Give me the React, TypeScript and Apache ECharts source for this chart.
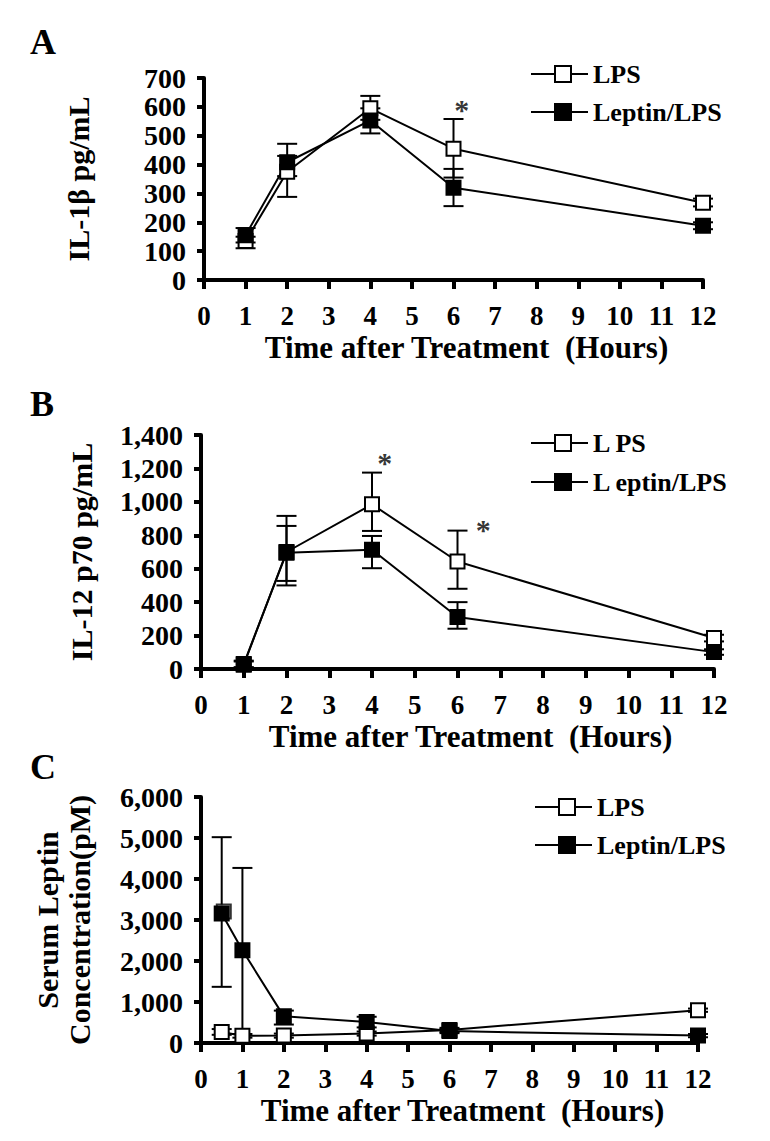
import React, { useEffect, useRef } from 'react';
import * as echarts from 'echarts';

// ---------- data ----------
const xTicks = [0, 1, 2, 3, 4, 5, 6, 7, 8, 9, 10, 11, 12];
const yTicksA = [0, 100, 200, 300, 400, 500, 600, 700];
const yTicksB = [0, 200, 400, 600, 800, 1000, 1200, 1400];
const yTicksC = [0, 1000, 2000, 3000, 4000, 5000, 6000];

// Panel A: IL-1beta
const timeA = [1, 2, 4, 6, 12];
const lpsA = [135, 375, 595, 455, 268];
const lpsALow = [110, 288, 555, 355, 255];
const lpsAHigh = [150, 430, 638, 558, 282];
const leptinA = [155, 408, 553, 320, 188];
const leptinALow = [130, 360, 508, 256, 176];
const leptinAHigh = [180, 472, 595, 385, 200];
const sigA = [[6.2, 615]];

// Panel B: IL-12 p70
const timeB = [1, 2, 4, 6, 12];
const lpsB = [25, 700, 985, 643, 185];
const lpsBLow = [10, 527, 826, 480, 165];
const lpsBHigh = [45, 856, 1175, 828, 205];
const leptinB = [30, 695, 713, 311, 101];
const leptinBLow = [10, 500, 603, 241, 85];
const leptinBHigh = [50, 916, 796, 400, 118];
const sigB = [[4.3, 1280], [6.6, 875]];

// Panel C: serum leptin
const timeC = [0.5, 1, 2, 4, 6, 12];
const lpsC = [270, 175, 180, 230, 320, 800];
const lpsCLow = [200, 130, 130, 180, 270, 760];
const lpsCHigh = [340, 220, 230, 280, 370, 840];
const leptinC = [3160, 2260, 650, 510, 290, 180];
const leptinCLow = [1370, 0, 450, 380, 240, 140];
const leptinCHigh = [5020, 4270, 790, 640, 340, 220];
const extraOpenC = [[0.55, 3210]];
const sigC = [[12.07, 1580]];

// ---------- styling ----------
const FONT = '"Liberation Serif", "Times New Roman", Times, serif';
const OPEN_ICON = 'path://M0,8H23V0H41V8H57V10H41V18H23V10H0Z M25,2V16H39V2Z';
const FILLED_ICON = 'path://M0,8H23V0H41V8H57V10H41V18H23V10H0Z';

const pairs = (xs: number[], ys: number[]) => xs.map((x, i) => [x, ys[i]]);
const errs = (xs: number[], lo: number[], hi: number[]) => xs.map((x, i) => [x, lo[i], hi[i]]);
const fmt = (v: number) => v.toLocaleString('en-US');

const errRender = (params: any, api: any) => {
  const x = api.value(0);
  const a = api.coord([x, api.value(1)]);
  const b = api.coord([x, api.value(2)]);
  const hw = 10;
  const style = { stroke: '#000', lineWidth: 2 };
  return {
    type: 'group',
    children: [
      { type: 'line', shape: { x1: a[0], y1: a[1], x2: b[0], y2: b[1] }, style },
      { type: 'line', shape: { x1: a[0] - hw, y1: a[1], x2: a[0] + hw, y2: a[1] }, style },
      { type: 'line', shape: { x1: b[0] - hw, y1: b[1], x2: b[0] + hw, y2: b[1] }, style },
    ],
  };
};

const xAxisFor = (gridIndex: number) => ({
  type: 'value',
  gridIndex,
  min: xTicks[0],
  max: xTicks[xTicks.length - 1],
  interval: xTicks[1] - xTicks[0],
  name: 'Time after Treatment  (Hours)',
  nameLocation: 'middle',
  nameGap: 52,
  nameTextStyle: { fontFamily: FONT, fontWeight: 'bold', fontSize: 31, color: '#000', padding: [0, 0, 0, 26] },
  axisLine: { show: true, onZero: false, lineStyle: { color: '#000', width: 4 } },
  axisTick: { show: true, length: 9, lineStyle: { color: '#000', width: 4 } },
  axisLabel: { color: '#000', fontFamily: FONT, fontWeight: 'bold', fontSize: 27, margin: 22, interval: 0, showMinLabel: true, showMaxLabel: true },
  splitLine: { show: false },
});

const yAxisFor = (gridIndex: number, ticks: number[], name: string, nameGap: number, extra: any = {}) => ({
  type: 'value',
  gridIndex,
  min: ticks[0],
  max: ticks[ticks.length - 1],
  interval: ticks[1] - ticks[0],
  name,
  nameLocation: 'middle',
  nameGap,
  nameRotate: 90,
  nameTextStyle: { fontFamily: FONT, fontWeight: 'bold', fontSize: 30, color: '#000', ...extra },
  axisLine: { show: true, onZero: false, lineStyle: { color: '#000', width: 4 } },
  axisTick: { show: true, length: 7, lineStyle: { color: '#000', width: 4 } },
  axisLabel: { color: '#000', fontFamily: FONT, fontWeight: 'bold', fontSize: 28, margin: 18, formatter: fmt },
  splitLine: { show: false },
});

const openItem = { color: '#fff', borderColor: '#000', borderWidth: 2 };
const filledItem = { color: '#000', borderColor: '#000', borderWidth: 2 };
const lineStyle = { color: '#000', width: 2 };

const lineSeries = (name: string, idx: number, data: number[][], open: boolean) => ({
  type: 'line',
  name,
  xAxisIndex: idx,
  yAxisIndex: idx,
  data,
  symbol: 'rect',
  symbolSize: 14,
  itemStyle: open ? openItem : filledItem,
  lineStyle,
  z: 3,
  silent: true,
});

const errSeries = (idx: number, data: number[][]) => ({
  type: 'custom',
  xAxisIndex: idx,
  yAxisIndex: idx,
  renderItem: errRender,
  data,
  encode: { x: 0, y: [1, 2] },
  clip: false,
  z: 2,
  silent: true,
});

const sigSeries = (idx: number, data: number[][]) => ({
  type: 'scatter',
  xAxisIndex: idx,
  yAxisIndex: idx,
  data,
  symbolSize: 1,
  itemStyle: { color: 'rgba(0,0,0,0)' },
  label: {
    show: true,
    position: 'inside',
    formatter: '*',
    fontFamily: FONT,
    fontWeight: 'bold',
    fontSize: 30,
    color: '#000',
    offset: [0, 7],
  },
  z: 4,
  silent: true,
});

const legendFor = (names: string[], left: number, top: number, gap: number) => ({
  orient: 'vertical',
  left,
  top,
  itemGap: gap,
  itemWidth: 57,
  itemHeight: 18,
  selectedMode: false,
  textStyle: { fontFamily: FONT, fontWeight: 'bold', fontSize: 26, color: '#000' },
  itemStyle: { color: '#000', borderWidth: 0 },
  data: [
    { name: names[0], icon: OPEN_ICON, itemStyle: { color: '#000', borderWidth: 0 } },
    { name: names[1], icon: FILLED_ICON, itemStyle: { color: '#000', borderWidth: 0 } },
  ],
});

const panelLabel = (text: string, x: number, y: number) => ({
  type: 'text',
  x,
  y,
  style: { text, fontFamily: FONT, fontWeight: 'bold', fontSize: 36, fill: '#000', textVerticalAlign: 'middle', verticalAlign: 'middle' },
});

export default function App() {
  const ref = useRef<HTMLDivElement>(null);
  useEffect(() => {
    if (!ref.current) return;
    const chart = echarts.init(ref.current, undefined, { renderer: 'svg' });
    chart.setOption({
      animation: false,
      backgroundColor: '#fff',
      textStyle: { fontFamily: FONT },
      grid: [
        { left: 204, top: 78, width: 499, height: 202 },
        { left: 201, top: 435, width: 513, height: 234 },
        { left: 201, top: 797, width: 497, height: 246 },
      ],
      xAxis: [xAxisFor(0), xAxisFor(1), xAxisFor(2)],
      yAxis: [
        yAxisFor(0, yTicksA, 'IL-1β pg/mL', 111),
        yAxisFor(1, yTicksB, 'IL-12 p70 pg/mL', 105),
        yAxisFor(2, yTicksC, 'Serum Leptin\nConcentration(pM)', 106, { lineHeight: 32 }),
      ],
      legend: [
        legendFor(['LPS', 'Leptin/LPS'], 526, 56, 12),
        legendFor(['L PS', 'L eptin/LPS'], 526, 425, 13),
        legendFor(['LPS', 'Leptin/LPS'], 530, 789, 12),
      ],
      graphic: [panelLabel('A', 30, 42), panelLabel('B', 30, 404), panelLabel('C', 30, 767)],
      series: [
        errSeries(0, errs(timeA, lpsALow, lpsAHigh)),
        errSeries(0, errs(timeA, leptinALow, leptinAHigh)),
        lineSeries('LPS', 0, pairs(timeA, lpsA), true),
        lineSeries('Leptin/LPS', 0, pairs(timeA, leptinA), false),
        sigSeries(0, sigA),

        errSeries(1, errs(timeB, lpsBLow, lpsBHigh)),
        errSeries(1, errs(timeB, leptinBLow, leptinBHigh)),
        lineSeries('L PS', 1, pairs(timeB, lpsB), true),
        lineSeries('L eptin/LPS', 1, pairs(timeB, leptinB), false),
        sigSeries(1, sigB),

        errSeries(2, errs(timeC, lpsCLow, lpsCHigh)),
        errSeries(2, errs(timeC, leptinCLow, leptinCHigh)),
        {
          type: 'scatter',
          xAxisIndex: 2,
          yAxisIndex: 2,
          data: extraOpenC,
          symbol: 'rect',
          symbolSize: 14,
          itemStyle: openItem,
          z: 3,
          silent: true,
        },
        lineSeries('LPS', 2, pairs(timeC, lpsC), true),
        lineSeries('Leptin/LPS', 2, pairs(timeC, leptinC), false),
        sigSeries(2, sigC),
      ],
    });
    return () => chart.dispose();
  }, []);
  return <div ref={ref} style={{ position: 'absolute', left: 0, top: 0, width: 770, height: 1141 }} />;
}
